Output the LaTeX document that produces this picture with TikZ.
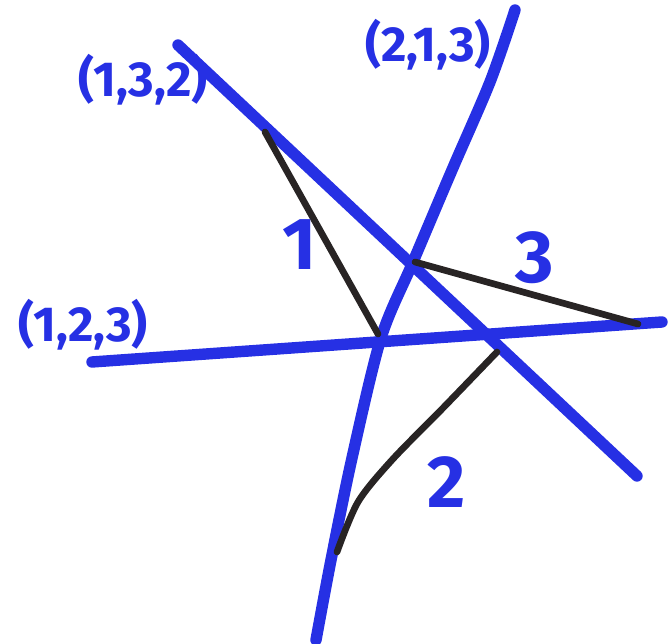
\documentclass[tikz,border=0pt]{standalone}
\usepackage{fontspec}
\setsansfont{Fira Sans}
\definecolor{marker}{RGB}{38,48,228}
\definecolor{pen}{RGB}{40,36,36}
\tikzset{
    wall/.style={marker, line width=6.5pt, line cap=round},
    perp/.style={pen, line width=3.8pt, line cap=round},
    tag/.style={marker, font=\sffamily\bfseries\fontsize{28}{32}\selectfont},
    num/.style={marker, font=\sffamily\bfseries\fontsize{42}{46}\selectfont}
}
\begin{document}
\begin{tikzpicture}[x=0.02cm, y=-0.02cm]
    \useasboundingbox (0,0) rectangle (670,644);

    % Three blue lines
    \draw[wall] (178,45) -- (637,476);
    \draw[wall, smooth] plot coordinates {
        (515,10) (490,82) (452,170) (413,262) (381,338) (352,458) (331,560) (316,640)
    };
    \draw[wall] (92,362) -- (662,322);

    % Feet of the black segments
    \coordinate (p1) at (265,132);
    \coordinate (q1) at (378,334);
    \coordinate (p3) at (415,262);
    \coordinate (q3) at (638,324);
    \coordinate (p2) at (497,352);
    \coordinate (q2) at (337,552);

    % Black segments
    \draw[perp] (p1) -- (q1);
    \draw[perp] (p3) -- (q3);
    \draw[perp, smooth] plot coordinates {(p2) (443,408) (392,460) (358,502) (q2)};

    % Labels
    \node[tag] (l132) at (143,80) {(1,3,2)};
    \node[tag] (l213) at (428,45) {(2,1,3)};
    \node[tag] (l123) at (83,325) {(1,2,3)};
    \node[num] (n1) at (300,245) {1};
    \node[num] (n3) at (535,258) {3};
    \node[num] (n2) at (447,482) {2};
\end{tikzpicture}
\end{document}
